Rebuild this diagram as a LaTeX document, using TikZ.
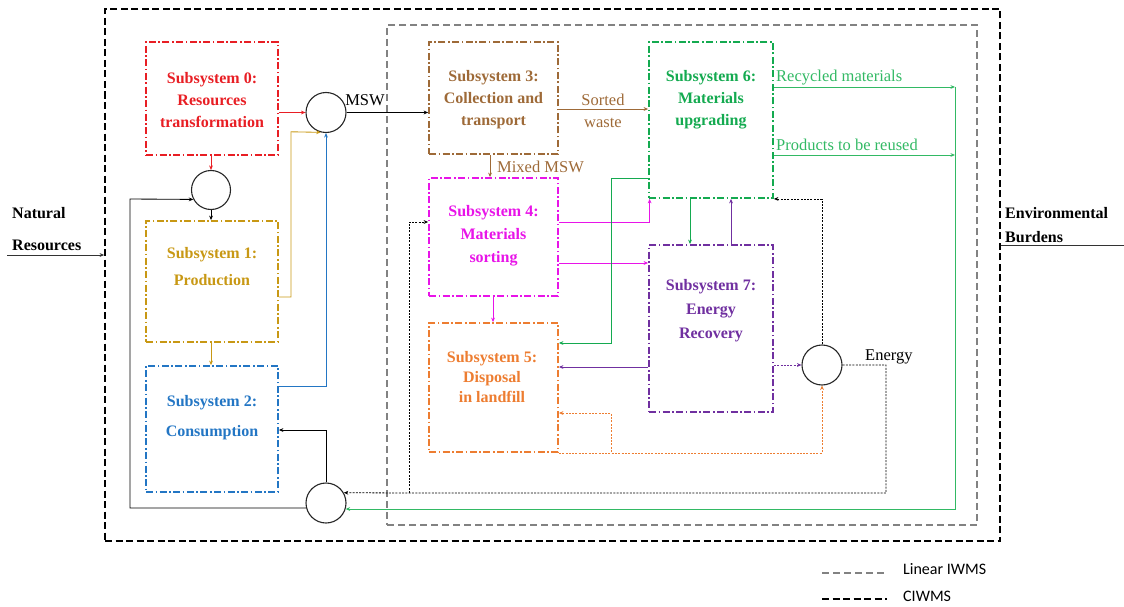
\documentclass[tikz,border=0pt]{standalone}
\usepackage{fontspec}
\setmainfont{Liberation Serif}[BoldFont={Liberation Serif Bold}]
\newfontfamily\lgdfont{Carlito}
\usetikzlibrary{arrows.meta}
\definecolor{cRed}{RGB}{232,30,36}
\definecolor{cGold}{RGB}{200,152,20}
\definecolor{cBlue}{RGB}{35,118,196}
\definecolor{cBrown}{RGB}{158,106,56}
\definecolor{cMag}{RGB}{232,20,232}
\definecolor{cOrange}{RGB}{237,125,49}
\definecolor{cGreen}{RGB}{20,170,80}
\definecolor{cGreenL}{RGB}{50,185,100}
\definecolor{cPurple}{RGB}{112,48,160}
\definecolor{cGrayBox}{RGB}{130,130,130}
\tikzset{
  sbox/.style={draw, line width=1.8pt, dash pattern=on 7pt off 2.5pt on 1.6pt off 2.5pt, inner sep=0pt},
  circ/.style={circle, draw=black!85, line width=1.1pt, minimum size=40pt, inner sep=0pt},
  conn/.style={line width=0.85pt, -{Stealth[length=4.5pt,width=3.8pt]}},
  plain/.style={line width=0.9pt},
  dotc/.style={line width=0.8pt, dash pattern=on 2pt off 1.3pt, -{Stealth[length=4.5pt,width=3.8pt]}},
  stxt/.style={align=center, font=\bfseries\fontsize{16}{22}\selectfont, inner sep=0pt},
  ltxt/.style={font=\fontsize{16.5}{22}\selectfont, inner sep=0pt},
  btxt/.style={font=\bfseries\fontsize{16}{22}\selectfont, inner sep=0pt},
  outerbox/.style={draw, line width=1.8pt, dash pattern=on 7pt off 3.5pt, inner sep=0pt},
  graybox/.style={draw=cGrayBox, line width=1.5pt, dash pattern=on 7pt off 4pt, inner sep=0pt},
}
\begin{document}
\begin{tikzpicture}[x=1pt,y=-1pt]
\useasboundingbox (0,0) rectangle (1124,607);

% system boxes
\node[outerbox, minimum width=895pt, minimum height=532pt] (ciwms) at (552.5,275) {};
\node[graybox, minimum width=590pt, minimum height=500pt] (liwms) at (682,275) {};

% subsystems
\node[sbox, draw=cRed, minimum width=132pt, minimum height=113pt] (s0) at (212,98.5) {};
\node[sbox, draw=cGold, minimum width=132pt, minimum height=121pt] (s1) at (212,281.5) {};
\node[sbox, draw=cBlue, minimum width=132pt, minimum height=126pt] (s2) at (212,429) {};
\node[sbox, draw=cBrown, minimum width=129pt, minimum height=112pt] (s3) at (493.5,98) {};
\node[sbox, draw=cMag, minimum width=129pt, minimum height=118pt] (s4) at (493.5,237) {};
\node[sbox, draw=cOrange, minimum width=129pt, minimum height=129pt] (s5) at (493.5,387.5) {};
\node[sbox, draw=cGreen, minimum width=124pt, minimum height=156pt] (s6) at (711,120) {};
\node[sbox, draw=cPurple, minimum width=124pt, minimum height=167pt] (s7) at (711,328.5) {};

\node[stxt, text=cRed] (t0) at (212,100) {Subsystem 0:\\Resources\\transformation};
\node[stxt, text=cGold, font=\bfseries\fontsize{16}{27}\selectfont] (t1) at (212,267) {Subsystem 1:\\Production};
\node[stxt, text=cBlue, font=\bfseries\fontsize{16}{30}\selectfont] (t2) at (212,418) {Subsystem 2:\\Consumption};
\node[stxt, text=cBrown] (t3) at (493.5,100) {Subsystem 3:\\Collection and\\transport};
\node[stxt, text=cMag, font=\bfseries\fontsize{16}{23}\selectfont] (t4) at (493.5,236) {Subsystem 4:\\Materials\\sorting};
\node[stxt, text=cOrange, font=\bfseries\fontsize{16}{20}\selectfont] (t5) at (492,377) {Subsystem 5:\\Disposal\\in landfill};
\node[stxt, text=cGreen] (t6) at (711,100) {Subsystem 6:\\Materials\\upgrading};
\node[stxt, text=cPurple, font=\bfseries\fontsize{16}{24}\selectfont] (t7) at (711,311) {Subsystem 7:\\Energy\\Recovery};

% circles
\node[circ] (c1) at (326,112.5) {};
\node[circ, minimum size=39pt] (c2) at (211,190) {};
\node[circ] (c3) at (326,503) {};
\node[circ] (ce) at (822,365) {};

% waypoints
\coordinate (w1a) at (291,297);
\coordinate (w1b) at (291,131.8);
\coordinate (wl) at (130,199);
\coordinate (wg) at (611,178);
\coordinate (wgb) at (611,343);
\coordinate (wo) at (611,452);
\coordinate (wob) at (611,413);
\coordinate (we) at (886,493);
\coordinate (wd) at (409,493);
\coordinate (wr1) at (955,87);
\coordinate (wr2) at (955,155);

% left part
\draw[conn, cRed] (s0.east |- c1.west) -- (c1.west);
\draw[conn, cRed] (s0.south -| c2.north) -- (c2.north);
\draw[conn, black] (c2.south) -- (s1.north -| c2.south);
\draw[conn, cGold] (s1.south -| c2.south) -- (s2.north -| c2.south);
\draw[conn, cGold] (s1.east |- w1a) -- (w1a) -- (w1b) -- (c1.255);
\draw[conn, cBlue] (s2.east |- 0,386) -| (c1.south);
\draw[conn, black] (c3.north) |- (s2.east |- 0,430);
\draw[conn, black] (c3.194) -| (wl) -- (c2.208);

% MSW
\draw[conn, black] (c1.east) -- (s3.west |- c1.east);
\node[ltxt] (msw) at (365,100) {MSW};

% right part
\draw[conn, cBrown] (s3.east |- 0,109) -- (s6.west |- 0,109);
\node[ltxt, text=cBrown, align=center] (sw) at (603,111) {Sorted\\waste};
\draw[conn, cBrown] (s3.south -| 490,0) -- (s4.north -| 490,0);
\node[ltxt, text=cBrown, anchor=west] (mm) at (497,167) {Mixed MSW};

\draw[conn, cMag] (s4.east |- 0,222) -| ([xshift=1.5pt]s6.south west);
\draw[conn, cMag] (s4.east |- 0,263) -- (s7.west |- 0,263);
\draw[conn, cMag] (s4.south -| 493,0) -- (s5.north -| 493,0);

\draw[conn, cGreen] (s6.west |- wg) -- (wg) -- (wgb) -- (s5.east |- wgb);
\draw[conn, cGreen] (s6.south -| 690,0) -- (s7.north -| 690,0);
\draw[conn, cPurple] (s7.north -| 731,0) -- (s6.south -| 731,0);
\draw[conn, cPurple] (s7.west |- 0,367) -- (s5.east |- 0,367);
\draw[dotc, cPurple] (s7.east |- ce.west) -- (ce.west);

\draw[dotc, cOrange] (s5.south east) -| (ce.south);
\draw[dotc, cOrange] (wo) -- (wob) -- (s5.east |- wob);

\draw[dotc, black] (ce.north) |- (s6.south east);
\draw[dotc, black] (ce.east) -| (we) -- (wd) -- (c3.30);
\draw[dotc, black] (wd) |- (s4.west |- 0,222);
\node[ltxt, anchor=west] (en) at (865,357) {Energy};

\draw[conn, cGreenL] (s6.east |- wr1) -- (wr1);
\draw[conn, cGreenL] (s6.east |- wr2) -- (wr2);
\draw[conn, cGreenL] (wr1) |- (c3.-17);
\node[ltxt, text=cGreenL, anchor=west] (rm) at (776,78) {Recycled materials};
\node[ltxt, text=cGreenL, anchor=west] (pr) at (776,145) {Products to be reused};

% natural resources / environmental burdens
\coordinate (nrs) at (7,255);
\draw[conn, black!80] (nrs) -- (ciwms.west |- nrs);
\node[btxt, anchor=west] (nr1) at (12,213) {Natural};
\node[btxt, anchor=west] (nr2) at (12,245) {Resources};
\coordinate (ebe) at (1124,245);
\draw[plain, black!80] (ciwms.east |- ebe) -- (ebe);
\node[btxt, anchor=west] (eb1) at (1005,213) {Environmental};
\node[btxt, anchor=west] (eb2) at (1005,237) {Burdens};

% legend
\coordinate (lg1a) at (822,573);
\coordinate (lg1b) at (887,573);
\coordinate (lg2a) at (822,599);
\coordinate (lg2b) at (887,599);
\draw[draw=cGrayBox, line width=1.5pt, dash pattern=on 7pt off 4pt] (lg1a) -- (lg1b);
\draw[line width=1.5pt, dash pattern=on 7pt off 3.5pt] (lg2a) -- (lg2b);
\node[anchor=west, inner sep=0pt, font=\lgdfont\fontsize{16}{20}\selectfont] (lgt1) at (903,569) {Linear IWMS};
\node[anchor=west, inner sep=0pt, font=\lgdfont\fontsize{16}{20}\selectfont] (lgt2) at (903,596) {CIWMS};
\end{tikzpicture}
\end{document}
